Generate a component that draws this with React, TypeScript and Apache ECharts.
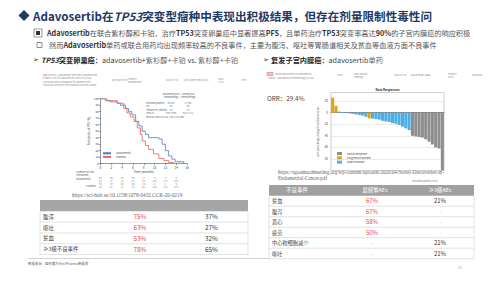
import React, { useEffect, useRef } from "react";
import * as echarts from "echarts";

// ---------- data ----------
const kmAdavoTime = [0, 0.9, 1.8, 3.1, 3.7, 4.6, 5.2, 5.8, 6.5, 7.1, 7.7, 8.3, 8.9, 10.8, 11.4, 12.0, 12.6, 13.2, 13.8, 15.4];
const kmAdavoSurv = [100, 97, 95, 93, 90, 85, 80, 75, 65, 58, 50, 45, 40, 38, 30, 20, 12, 7, 3, 0];
const kmPlaceboTime = [0, 1.2, 3.1, 4.3, 4.9, 5.5, 6.2, 6.8, 7.4, 7.7, 8.3, 8.9, 9.8, 10.8, 11.7, 12.6, 13.5];
const kmPlaceboSurv = [100, 97, 93, 85, 78, 72, 65, 55, 45, 35, 28, 22, 15, 8, 5, 2, 0];

const riskTimes = [0, 2, 4, 6, 8, 10, 12, 14];
const riskAdavo = [59, 56, 49, 35, 17, 9, 3, 0];
const riskAdavoCens = [0, 1, 2, 5, 9, 14, 17, 19];
const riskPlacebo = [62, 57, 45, 28, 10, 4, 1, 0];
const riskPlaceboCens = [0, 2, 4, 6, 8, 10, 12, 13];

const patients = Array.from({ length: 34 }, (_, i) => String(i + 1));
const bestChange = [26, 12, 2, 1, 0.5, -1, -2, -3, -4, -5, -7, -10, -10, -11, -12, -14, -15, -16, -18, -19, -21, -24, -27, -30, -40, -41, -42, -43, -46, -50, -55, -60, -62, -100];
const responseType = [
  "PD", "PD", "SD", "SD", "SD", "SD", "SD", "SD", "SD", "SD", "SD", "PD",
  "SD", "SD", "SD", "SD", "SD", "SD", "SD", "SD", "SD", "SD", "SD", "SD",
  "PR", "PR", "PR", "PR", "PR", "PR", "PR", "PR", "PR", "PR",
];

const leftAeNames = ["腹泻", "呕吐", "贫血", "≥3级不良事件"];
const leftAdavo = ["75%", "63%", "53%", "78%"];
const leftPlacebo = ["37%", "27%", "32%", "65%"];

const rightHeader = ["不良事件", "最频繁AEs", "≥3级AEs"];
const rightAeNames = ["贫血", "腹泻", "恶心", "疲劳", "中心粒细胞减少", "呕吐"];
const rightMostFreq = ["67%", "67%", "58%", "50%", "-", "-"];
const rightGrade3 = ["21%", "-", "-", "-", "21%", "21%"];

// ---------- helpers ----------
const FF = '"Noto Sans CJK SC", "Noto Sans", sans-serif';
const NAVY = "#1F3864";
const RED = "#E8474A";

function txt(x: number, y: number, text: string, size: number, fill: string, extra: any = {}) {
  const align = extra.align || "left";
  return {
    type: "text",
    x,
    y,
    silent: true,
    style: {
      text,
      fontSize: size,
      fontFamily: extra.fontFamily || FF,
      fontWeight: extra.fontWeight || "normal",
      fontStyle: extra.fontStyle || "normal",
      fill,
      align,
      textAlign: align,
      verticalAlign: "middle",
      textVerticalAlign: "middle",
      rich: extra.rich,
    },
  };
}

function line(x1: number, y1: number, x2: number, y2: number, stroke: string, w = 0.6) {
  return { type: "line", silent: true, shape: { x1, y1, x2, y2 }, style: { stroke, lineWidth: w } };
}

function rect(x: number, y: number, width: number, height: number, fill: string, stroke?: string) {
  return {
    type: "rect",
    silent: true,
    shape: { x, y, width, height },
    style: { fill, stroke: stroke || "none", lineWidth: 0.5 },
  };
}

function buildGraphics() {
  const g: any[] = [];
  // Title
  g.push({
    type: "polygon",
    silent: true,
    shape: { points: [[18.5, 15.5], [24, 10], [29.5, 15.5], [24, 21]] },
    style: { fill: NAVY },
  });
  g.push(
    txt(33, 15.5, "{b|Adavosertib}{c|在}{i|TP53}{c|突变型瘤种中表现出积极结果，但存在剂量限制性毒性问}", 11.6, NAVY, {
      fontWeight: "bold",
      rich: {
        b: { fontSize: 11.6, fontWeight: "bold", fill: NAVY, fontFamily: FF },
        i: { fontSize: 11.6, fontWeight: "bold", fontStyle: "italic", fill: NAVY, fontFamily: FF },
        c: { fontSize: 11.6, fontWeight: "bold", fill: NAVY, fontFamily: FF },
      },
    })
  );
  // Bullet 1 icon
  g.push(rect(34, 29, 8, 8, "#fff", "#333"));
  g.push({ type: "rect", silent: true, shape: { x: 36, y: 31, width: 4, height: 4 }, style: { fill: "#333" } });
  const r1 = {
    b: { fontSize: 7.2, fontWeight: "bold", fill: "#333", fontFamily: FF },
    n: { fontSize: 7.2, fill: "#555", fontFamily: FF },
  };
  g.push(
    txt(
      47,
      33,
      "{b|Adavosertib}{n|在联合紫杉醇和卡铂，治疗}{b|TP53}{n|突变卵巢癌中显著提高}{b|PFS}{n|，且单药治疗}{b|TP53}{n|突变率高达}{b|90%}{n|的子宫内膜癌的响应积极}",
      7.2,
      "#555",
      { rich: r1 }
    )
  );
  // Bullet 2 icon
  g.push(rect(37, 42.5, 5, 5, "#fff", "#222"));
  g.push(
    txt(
      49,
      45,
      "{n|然而}{b|Adavosertib}{n|单药或联合用药均出现频率较高的不良事件，主要为腹泻、呕吐等胃肠道相关及贫血等血液方面不良事件}",
      7.2,
      "#555",
      { rich: r1 }
    )
  );
  // Section headings
  const rh = {
    a: { fontSize: 7, fill: "#333", fontFamily: "DejaVu Sans" },
    bi: { fontSize: 7.2, fontWeight: "bold", fontStyle: "italic", fill: "#222", fontFamily: FF },
    b: { fontSize: 7.2, fontWeight: "bold", fill: "#222", fontFamily: FF },
    n: { fontSize: 7.2, fill: "#444", fontFamily: FF },
    s: { fontSize: 7.2, fill: "#666", fontFamily: FF },
  };
  g.push(txt(33, 59.5, "{a|➢ }{bi|TP53}{b|突变卵巢癌：}{n|adavosertib+}{s|紫杉醇+卡铂}{n| vs. }{s|紫杉醇+卡铂}", 7.2, "#333", { rich: rh }));
  g.push(txt(263, 59.5, "{a|➢ }{b|复发子宫内膜癌：}{n|adavosertib}{s|单药}", 7.2, "#333", { rich: rh }));

  // Left source header (tiny)
  const tg = "#8a8a8a";
  g.push(txt(43, 74.5, "{r|Oza AM} et al. A Biomarker-enriched, Randomized", 2.4, tg, { rich: { r: { fontSize: 2.4, fill: "#d04040", fontFamily: FF } } }));
  g.push(txt(43, 78, "Phase II Trial of Adavosertib (AZD1775) Plus", 2.4, tg));
  g.push(txt(43, 81.5, "Paclitaxel and Carboplatin for Women with", 2.4, tg));
  g.push(txt(43, 85, "Platinum-sensitive TP53-mutant Ovarian Cancer", 2.4, tg));
  g.push(txt(112, 80, "NCT02272790", 2.4, tg));
  g.push(txt(128, 78.5, "Phase II", 2.4, tg));
  g.push(txt(128, 81.5, "randomized", 2.4, tg));
  g.push(txt(166, 80, "2020-07-15", 2.4, tg));
  g.push(txt(184, 80, "Clin Cancer Res 26(18)", 2.4, tg));
  g.push(txt(218, 79, "2020", 2.4, tg));
  g.push(txt(218, 82, "IF 10", 2.4, tg));
  g.push(txt(241, 80, "4767", 2.4, tg));

  // KM inset table
  const it = "#555";
  const c1 = 171, c2 = 188;
  g.push(txt(c1, 93.5, "Adavosertib plus", 2.2, it, { align: "center" }));
  g.push(txt(c1, 96.5, "chemotherapy", 2.2, it, { align: "center" }));
  g.push(txt(c2, 93.5, "Placebo plus", 2.2, it, { align: "center" }));
  g.push(txt(c2, 96.5, "chemotherapy", 2.2, it, { align: "center" }));
  const insetRows = [
    ["Censored patients", "30 (58)", "17 (56)"],
    ["PD", "29", "39"],
    ["Median PFS, months", "7.9", "7.3"],
    ["(95% CI)", "(6.97–9.95)", "(5.51–8.11)"],
  ];
  insetRows.forEach((r, i) => {
    const y = 102.5 + i * 3.4;
    g.push(txt(146, y, r[0], 2.2, it));
    g.push(txt(c1, y, r[1], 2.2, it, { align: "center" }));
    g.push(txt(c2, y, r[2], 2.2, it, { align: "center" }));
  });
  g.push(txt(146, 117, "HR 0.63 (95% CI 0.38–1.06); P=0.080", 2.3, it));

  // Number at risk labels
  g.push(txt(76, 172, "Number at risk", 2.6, it));
  g.push(txt(76, 175, "(censored)", 2.6, it));
  g.push(txt(76, 178.5, "Adavosertib", 2.6, it));
  g.push(txt(86, 185.5, "Placebo", 2.6, it));

  // Left URL
  g.push(txt(72, 194.5, "https://sci-hub.se/10.1158/1078-0432.CCR-20-0219", 5.3, "#666", { fontFamily: '"Liberation Serif", serif' }));

  // Left table
  const lx = 40, lw = 208, ly = 200, lh = 11.3, rowH = 10.8;
  g.push(rect(lx, ly, lw, lh, "#A6A6A6"));
  leftAeNames.forEach((name, i) => {
    const y0 = ly + lh + i * rowH;
    g.push(line(lx, y0 + rowH, lx + lw, y0 + rowH, "#D0D0D0", 0.6));
    g.push(txt(lx + 3, y0 + rowH / 2, name, 5.4, "#444"));
    g.push(txt(140, y0 + rowH / 2, leftAdavo[i], 6.4, RED, { align: "center" }));
    g.push(txt(205, y0 + rowH / 2, leftPlacebo[i], 6.4, "#333"));
  });
  const lBottom = ly + lh + leftAeNames.length * rowH;
  g.push(line(lx, ly + lh, lx, lBottom, "#D0D0D0", 0.6));
  g.push(line(lx + lw, ly + lh, lx + lw, lBottom, "#D0D0D0", 0.6));

  // Footer
  g.push(line(28, 258.5, 270, 258.5, "#BFBFBF", 0.7));
  g.push(txt(28, 263.5, "数据来源：医药魔方NextPharma数据库", 3.4, "#666"));
  g.push(txt(458, 267.5, "11", 3.4, "#9a9a9a"));

  // Right source header (tiny)
  g.push(rect(267, 72.5, 6, 3, "#fff", "#d04040"));
  g.push(txt(268, 74, "SGO", 2.2, "#d04040"));
  g.push(txt(275, 74, "Novel Discoveries in Endometrial", 2.4, tg));
  g.push(txt(268, 77.5, "Cancer: Adavosertib monotherapy in USC", 2.4, tg));
  g.push(txt(337, 75, "2020", 2.4, tg));
  g.push(txt(354, 73.5, "SGO Annual", 2.4, tg));
  g.push(txt(354, 76.5, "Meeting", 2.4, tg));
  g.push(txt(394, 75, "2020-03-28", 2.4, tg));
  g.push(txt(411, 75, "Liu JF, et al. (USC)", 2.4, "#666"));
  g.push(txt(448, 73.5, "Phase II", 2.4, tg));
  g.push(txt(448, 76.5, "n=34", 2.4, tg));
  g.push(txt(472, 75, "Oral Pres.", 2.4, tg));

  // ORR
  g.push(txt(267, 98, "ORR：29.4%", 6.4, "#444"));
  // waterfall title
  g.push(txt(387.5, 89.8, "Best Responses", 3.2, "#333", { align: "center", fontWeight: "bold" }));
  g.push(txt(412, 181, "Individual patients (n=34)", 2.2, "#777"));

  // Right URL
  const serif = { fontFamily: '"Liberation Serif", serif' };
  g.push(txt(278, 172, "https://sgoannualmeeting.org/wp-content/uploads/2020/04/Novel-Discoveries-in-", 5.1, "#666", serif));
  g.push(txt(278, 178.3, "Endometrial-Cancer.pdf", 5.1, "#666", serif));

  // Right table
  const rx = 269, rw = 205, ry = 185, rhh = 10.7, rrow = 10.5;
  g.push(rect(rx, ry, rw, rhh, "#A0A0A0"));
  const colX = [297, 375, 440];
  rightHeader.forEach((h, i) => g.push(txt(colX[i], ry + rhh / 2, h, 5.4, "#fff", { align: "center" })));
  rightAeNames.forEach((name, i) => {
    const y0 = ry + rhh + i * rrow;
    g.push(line(rx, y0 + rrow, rx + rw, y0 + rrow, "#D0D0D0", 0.6));
    g.push(txt(rx + 3, y0 + rrow / 2, name, 5.2, "#444"));
    const mf = rightMostFreq[i];
    g.push(txt(colX[1] - 3, y0 + rrow / 2, mf, mf === "-" ? 5 : 6, mf === "-" ? "#777" : RED, { align: "center" }));
    const g3 = rightGrade3[i];
    g.push(txt(colX[2], y0 + rrow / 2, g3, g3 === "-" ? 5 : 6, g3 === "-" ? "#777" : "#333", { align: "center" }));
  });
  const rBottom = ry + rhh + rightAeNames.length * rrow;
  g.push(line(rx, ry + rhh, rx, rBottom, "#D0D0D0", 0.6));
  g.push(line(rx + rw, ry + rhh, rx + rw, rBottom, "#D0D0D0", 0.6));

  return g;
}

function buildOption(): any {
  const pick = (t: string) => bestChange.map((v, i) => (responseType[i] === t ? v : "-"));
  const kmLabel = { fontSize: 3.2, color: "#444", margin: 2, fontFamily: FF };
  const axisLine = { show: true, lineStyle: { color: "#333", width: 0.5 } };
  return {
    animation: false,
    backgroundColor: "#ffffff",
    textStyle: { fontFamily: FF },
    grid: [
      { left: 100.5, top: 98.7, width: 86.5, height: 65 },
      { left: 331, top: 92.5, width: 113, height: 78, show: true, borderColor: "#9a9a9a", borderWidth: 0.5, backgroundColor: "transparent" },
      { left: 100.5, top: 176, width: 86.5, height: 12 },
    ],
    xAxis: [
      {
        gridIndex: 0,
        type: "value",
        min: 0,
        max: 16,
        interval: 2,
        axisLine,
        axisTick: { show: true, length: 1.5, lineStyle: { width: 0.5, color: "#333" } },
        axisLabel: kmLabel,
        splitLine: { show: false },
        name: "Time (months)",
        nameLocation: "middle",
        nameGap: 7,
        nameTextStyle: { fontSize: 3, color: "#444" },
      },
      {
        gridIndex: 1,
        type: "category",
        data: patients,
        axisLine: { show: true, onZero: true, lineStyle: { color: "#444", width: 0.6 } },
        axisTick: { show: false },
        axisLabel: { show: false },
        splitLine: { show: false },
      },
      { gridIndex: 2, type: "value", min: 0, max: 16, show: false },
    ],
    yAxis: [
      {
        gridIndex: 0,
        type: "value",
        min: 0,
        max: 100,
        interval: 10,
        axisLine,
        axisTick: { show: true, length: 1.5, lineStyle: { width: 0.5, color: "#333" } },
        axisLabel: { ...kmLabel, fontSize: 2.8 },
        splitLine: { show: false },
        name: "Probability of PFS (%)",
        nameLocation: "middle",
        nameGap: 9,
        nameTextStyle: { fontSize: 2.8, color: "#444" },
      },
      {
        gridIndex: 1,
        type: "value",
        min: -100,
        max: 35,
        interval: 20,
        axisLine: { show: false },
        axisTick: { show: false },
        axisLabel: { fontSize: 3, color: "#555", margin: 3, showMaxLabel: false, showMinLabel: false },
        splitLine: { show: true, lineStyle: { color: "#d5d5d5", width: 0.5 } },
        name: "Best percentage change from baseline (%)",
        nameLocation: "middle",
        nameGap: 11,
        nameTextStyle: { fontSize: 2.6, color: "#555" },
      },
      {
        gridIndex: 2,
        type: "category",
        data: ["Adavosertib", "Placebo"],
        inverse: true,
        show: false,
      },
    ],
    legend: [
      {
        data: ["Adavosertib", "Placebo"],
        left: 102,
        top: 152,
        orient: "vertical",
        itemWidth: 8,
        itemHeight: 2,
        itemGap: 1,
        padding: 0,
        textStyle: { fontSize: 2.6, color: "#444" },
      },
      {
        data: ["Partial Response", "Progressive Disease", "Stable Disease"],
        left: 337,
        top: 152,
        orient: "vertical",
        icon: "rect",
        itemWidth: 5,
        itemHeight: 3,
        itemGap: 1.3,
        padding: 0,
        textStyle: { fontSize: 2.6, color: "#444" },
      },
    ],
    series: [
      {
        name: "Adavosertib",
        type: "line",
        xAxisIndex: 0,
        yAxisIndex: 0,
        step: "end",
        symbol: "none",
        data: kmAdavoTime.map((t, i) => [t, kmAdavoSurv[i]]),
        lineStyle: { color: "#4A7EBB", width: 0.8 },
        itemStyle: { color: "#4A7EBB" },
      },
      {
        name: "Placebo",
        type: "line",
        xAxisIndex: 0,
        yAxisIndex: 0,
        step: "end",
        symbol: "none",
        data: kmPlaceboTime.map((t, i) => [t, kmPlaceboSurv[i]]),
        lineStyle: { color: "#E8615A", width: 0.8 },
        itemStyle: { color: "#E8615A" },
      },
      {
        name: "Partial Response",
        type: "bar",
        xAxisIndex: 1,
        yAxisIndex: 1,
        stack: "wf",
        barCategoryGap: "8%",
        data: pick("PR"),
        itemStyle: { color: "#8E8E8E" },
      },
      {
        name: "Progressive Disease",
        type: "bar",
        xAxisIndex: 1,
        yAxisIndex: 1,
        stack: "wf",
        data: pick("PD"),
        itemStyle: { color: "#E2A312" },
      },
      {
        name: "Stable Disease",
        type: "bar",
        xAxisIndex: 1,
        yAxisIndex: 1,
        stack: "wf",
        data: pick("SD"),
        itemStyle: { color: "#4DAEE5" },
      },
      {
        name: "risk",
        type: "scatter",
        xAxisIndex: 2,
        yAxisIndex: 2,
        symbolSize: 0,
        silent: true,
        data: [
          ...riskTimes.map((t, i) => [t, "Adavosertib", riskAdavo[i], riskAdavoCens[i]]),
          ...riskTimes.map((t, i) => [t, "Placebo", riskPlacebo[i], riskPlaceboCens[i]]),
        ],
        label: {
          show: true,
          position: "inside",
          fontSize: 2.6,
          lineHeight: 3,
          color: "#555",
          formatter: (p: any) => `${p.value[2]}\n(${p.value[3]})`,
        },
      },
    ],
    graphic: { elements: buildGraphics() },
  };
}

export default function App() {
  const ref = useRef<HTMLDivElement>(null);
  useEffect(() => {
    if (!ref.current) return;
    const chart = echarts.init(ref.current, undefined, { renderer: "svg" });
    chart.setOption(buildOption());
    return () => chart.dispose();
  }, []);
  return (
    <div
      ref={ref}
      style={{ position: "absolute", left: 0, top: 0, width: 499, height: 281, background: "#fff" }}
    />
  );
}
